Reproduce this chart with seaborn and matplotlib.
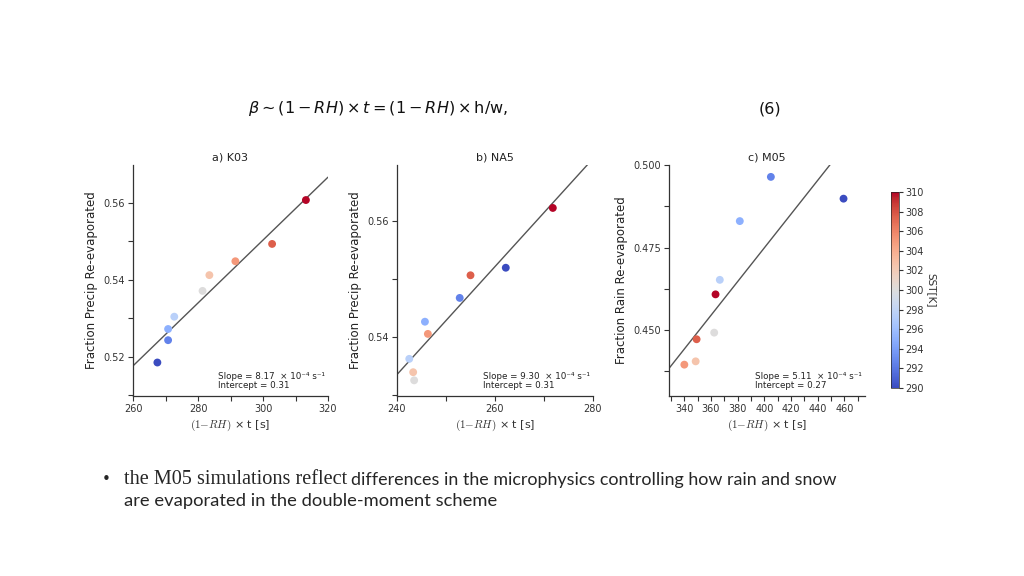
import numpy as np
import pandas as pd
import matplotlib
matplotlib.use("Agg")
import matplotlib.pyplot as plt
from matplotlib.ticker import MultipleLocator, FormatStrFormatter
import seaborn as sns

# SST of each simulation (same for all three panels)
sst = [290, 292.5, 295, 297.5, 300, 302.5, 305, 307.5, 310]

# a) K03
k03_x = [267.5, 270.8, 270.8, 272.7, 281.4, 283.5, 291.5, 302.8, 313.2]
k03_y = [0.5185, 0.5243, 0.5272, 0.5304, 0.5371, 0.5412, 0.5448, 0.5493, 0.5607]

# b) NA5
na5_x = [262.2, 252.8, 245.7, 242.5, 243.5, 243.3, 246.3, 255.0, 271.8]
na5_y = [0.5520, 0.5468, 0.5427, 0.5363, 0.5326, 0.5340, 0.5406, 0.5507, 0.5623]

# c) M05
m05_x = [459.4, 404.9, 381.6, 366.6, 362.4, 348.5, 340.0, 349.2, 363.4]
m05_y = [0.4898, 0.4964, 0.4830, 0.4652, 0.4492, 0.4405, 0.4395, 0.4472, 0.4608]

titles = ["a) K03", "b) NA5", "c) M05"]
ylabels = ["Fraction Precip Re-evaporated", "Fraction Precip Re-evaporated",
           "Fraction Rain Re-evaporated"]
slopes = [8.17e-4, 9.30e-4, 5.11e-4]
slope_txt = ["8.17", "9.30", "5.11"]
intercepts = [0.3052, 0.3104, 0.2705]
intercept_txt = ["0.31", "0.31", "0.27"]

xlims = [(260, 320), (240, 280), (328.5, 475.5)]
ylims = [(0.5098, 0.5698), (0.5299, 0.5697), (0.430, 0.500)]
x_major = [20, 20, 20]
x_minor = [10, 10, 10]
y_major = [0.02, 0.02, 0.025]
y_minor = [0.01, 0.01, 0.0125]
y_fmt = ["%.2f", "%.2f", "%.3f"]

sns.set_style("ticks")
plt.rcParams["font.family"] = ["DejaVu Sans"]

fig = plt.figure(figsize=(10.24, 5.76), dpi=100)

boxes = [[133/1024, 1-396/576, 195/1024, 231/576],
         [397/1024, 1-396/576, 196/1024, 231/576],
         [669/1024, 1-396/576, 196/1024, 231/576]]

panels = [(k03_x, k03_y), (na5_x, na5_y), (m05_x, m05_y)]

for i, (xs, ys) in enumerate(panels):
    ax = fig.add_axes(boxes[i])
    df = pd.DataFrame({"x": xs, "y": ys, "sst": sst})
    sns.scatterplot(data=df, x="x", y="y", hue="sst", palette="coolwarm",
                    hue_norm=(290, 310), s=32, linewidth=0, legend=False, ax=ax, zorder=3)
    xl = np.array(xlims[i])
    ax.plot(xl, intercepts[i] + slopes[i] * xl, color="#555555", lw=1.0, zorder=2)
    ax.set_xlim(xlims[i])
    ax.set_ylim(ylims[i])
    ax.xaxis.set_major_locator(MultipleLocator(x_major[i]))
    ax.xaxis.set_minor_locator(MultipleLocator(x_minor[i]))
    ax.yaxis.set_major_locator(MultipleLocator(y_major[i]))
    ax.yaxis.set_minor_locator(MultipleLocator(y_minor[i]))
    ax.yaxis.set_major_formatter(FormatStrFormatter(y_fmt[i]))
    ax.tick_params(which="both", length=3.5, width=0.8, labelsize=7,
                   colors="#333333", pad=2)
    ax.tick_params(axis="y", which="minor", labelleft=False)
    for sp in ["left", "bottom"]:
        ax.spines[sp].set_color("#333333")
        ax.spines[sp].set_linewidth(0.9)
    sns.despine(ax=ax)
    ax.set_title(titles[i], fontsize=8, pad=3, color="#222222")
    ax.set_ylabel(ylabels[i], fontsize=8.5, color="#222222", labelpad=4)
    ax.set_xlabel(r"$(1{-}RH)$ × t [s]", fontsize=8, color="#333333",
                  labelpad=3, math_fontfamily="cm")
    ax.text(0.985, 0.025,
            "Slope = " + slope_txt[i] + "  × 10⁻⁴ s⁻¹\nIntercept = " + intercept_txt[i],
            transform=ax.transAxes, ha="right", va="bottom", fontsize=6.3,
            linespacing=1.0, color="#222222", multialignment="left")

# colorbar
cax = fig.add_axes([891/1024, 1-388/576, 8/1024, 196/576])
sm = plt.cm.ScalarMappable(cmap="coolwarm", norm=plt.Normalize(290, 310))
cb = fig.colorbar(sm, cax=cax, ticks=np.arange(290, 311, 2))
cb.outline.set_linewidth(0.5)
cb.ax.tick_params(labelsize=7, length=3, width=0.8, colors="#333333", pad=1.5)
cb.set_label("SST[K]", rotation=270, fontsize=7.5, labelpad=9, color="#333333")

# equation from the slide
fig.text(248/1024, 1-109/576,
         r"$\beta \sim (1 - RH) \times t = (1 - RH) \times \mathrm{h/w},$",
         fontsize=11.5, va="center", ha="left", math_fontfamily="dejavusans",
         color="#111111")
fig.text(770/1024, 1-109/576, "(6)", fontsize=11.5, va="center", ha="center",
         color="#111111")

# bullet text
fig.text(102/1024, 1-479/576, "•", fontsize=11, va="center", ha="left")
fig.text(124/1024, 1-480/576, "the M05 simulations reflect", fontsize=14.6,
         va="center", ha="left", family="Liberation Serif")
fig.text(351/1024, 1-480/576,
         "differences in the microphysics controlling how rain and snow",
         fontsize=12.9, va="center", ha="left", family="Lato")
fig.text(124/1024, 1-501/576, "are evaporated in the double-moment scheme",
         fontsize=13.2, va="center", ha="left", family="Lato")

fig.savefig("out.png", dpi=100, facecolor="white")
